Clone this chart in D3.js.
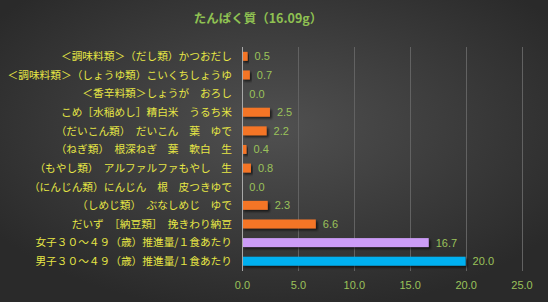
<!DOCTYPE html>
<html>
<head>
<meta charset="utf-8">
<script src="https://cdn.jsdelivr.net/npm/d3@7"></script>
<style>
  html, body { margin: 0; padding: 0; background: #2c2c2c; }
  svg { display: block; }
</style>
</head>
<body>
<div id="chart"></div>
<script>
const title = 'たんぱく質（16.09g）'

const categories = [
  '＜調味料類＞（だし類）かつおだし',
  '＜調味料類＞（しょうゆ類）こいくちしょうゆ',
  '＜香辛料類＞しょうが　おろし',
  'こめ［水稲めし］精白米　うるち米',
  '（だいこん類）　だいこん　葉　ゆで',
  '（ねぎ類）　根深ねぎ　葉　軟白　生',
  '（もやし類）　アルファルファもやし　生',
  '（にんじん類）にんじん　根　皮つきゆで',
  '（しめじ類）　ぶなしめじ　ゆで',
  'だいず　［納豆類］　挽きわり納豆',
  '女子３０～４９（歳）推進量/１食あたり',
  '男子３０～４９（歳）推進量/１食あたり'
]

const values = [0.5, 0.7, 0.03, 2.5, 2.2, 0.4, 0.8, 0.03, 2.3, 6.6, 16.7, 20.0]
const barColors = ['#f47428', '#f47428', '#f47428', '#f47428', '#f47428', '#f47428',
  '#f47428', '#f47428', '#f47428', '#f47428', '#cc9cf7', '#00b0f0']
const xTicks = [0, 5, 10, 15, 20, 25]

const width = 548
const height = 302

const svg = d3.select('#chart')
  .append('svg')
  .attr('width', width)
  .attr('height', height)

const defs = svg.append('defs')
const grad = defs.append('radialGradient')
  .attr('id', 'bg')
  .attr('cx', '50%').attr('cy', '42%').attr('r', '62%')
grad.append('stop').attr('offset', '0%').attr('stop-color', '#505050')
grad.append('stop').attr('offset', '100%').attr('stop-color', '#2a2a2a')

defs.append('filter')
  .attr('id', 'shadow')
  .attr('x', '-20%').attr('y', '-50%').attr('width', '140%').attr('height', '220%')
  .append('feDropShadow')
  .attr('dx', 2).attr('dy', 2).attr('stdDeviation', 1.3)
  .attr('flood-color', '#000').attr('flood-opacity', 0.6)

svg.append('rect')
  .attr('width', width).attr('height', height)
  .attr('fill', 'url(#bg)')

const x = d3.scaleLinear().domain([0, 25]).range([242, 521.5])
const y = d3.scaleBand().domain(categories).range([47, 270.5]).paddingInner(0.52).paddingOuter(0.26)

// gridlines
svg.append('g')
  .selectAll('line')
  .data(xTicks.slice(1))
  .enter()
  .append('line')
  .attr('x1', d => Math.round(x(d)) + 0.5)
  .attr('x2', d => Math.round(x(d)) + 0.5)
  .attr('y1', 47)
  .attr('y2', 271)
  .attr('stroke', '#626262')
  .attr('stroke-width', 1)

// x axis
const xAxis = d3.axisBottom(x)
  .tickValues(xTicks)
  .tickFormat(d3.format('.1f'))
  .tickSize(0)
  .tickPadding(10)

const gx = svg.append('g')
  .attr('transform', 'translate(0, 271)')
  .call(xAxis)
gx.select('.domain').remove()
gx.selectAll('text')
  .attr('fill', '#9bc25a')
  .style('font-family', '"Liberation Sans", Arial, sans-serif')
  .style('font-size', '11px')

// bars
svg.append('g')
  .selectAll('rect')
  .data(values)
  .enter()
  .append('rect')
  .attr('x', x(0))
  .attr('y', (d, i) => y(categories[i]))
  .attr('width', d => x(d) - x(0))
  .attr('height', y.bandwidth())
  .attr('fill', (d, i) => barColors[i])
  .attr('filter', 'url(#shadow)')

// zero axis line
svg.append('line')
  .attr('x1', Math.round(x(0)) + 0.5)
  .attr('x2', Math.round(x(0)) + 0.5)
  .attr('y1', 47)
  .attr('y2', 271)
  .attr('stroke', '#a8a8a8')

// value labels
svg.append('g')
  .selectAll('text')
  .data(values)
  .enter()
  .append('text')
  .attr('x', d => x(d) + 7)
  .attr('y', (d, i) => y(categories[i]) + y.bandwidth() / 2)
  .attr('dy', '0.36em')
  .attr('fill', '#9bc25a')
  .style('font-family', '"Liberation Sans", Arial, sans-serif')
  .style('font-size', '11px')
  .text(d => d3.format('.1f')(d))

// category labels
svg.append('g')
  .selectAll('text')
  .data(categories)
  .enter()
  .append('text')
  .attr('x', 232)
  .attr('y', d => y(d) + y.bandwidth() / 2)
  .attr('dy', '0.36em')
  .attr('text-anchor', 'end')
  .attr('fill', '#e6e645')
  .style('font-family', '"Noto Sans CJK JP", sans-serif')
  .style('font-size', '10.7px')
  .text(d => d)

// title
svg.append('text')
  .attr('x', 258)
  .attr('y', 23)
  .attr('text-anchor', 'middle')
  .attr('fill', '#8fc152')
  .style('font-family', '"Noto Sans CJK JP", sans-serif')
  .style('font-size', '12.5px')
  .style('font-weight', 'bold')
  .text(title)
</script>
</body>
</html>
